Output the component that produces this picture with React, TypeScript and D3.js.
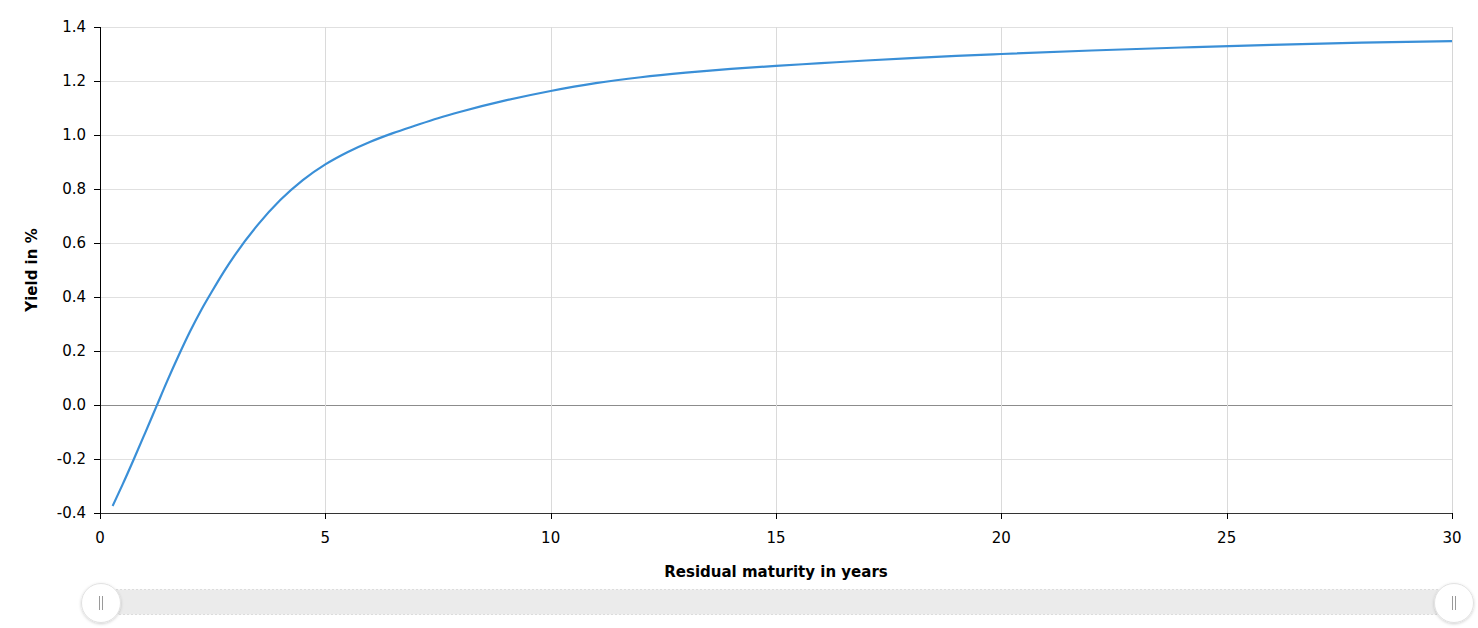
import React from "react";
import * as d3 from "d3";

const maturities = [0.28, 0.5, 0.75, 1.0, 1.25, 1.5, 1.75, 2.0, 2.25, 2.5, 2.75, 3.0, 3.5, 4.0, 4.5, 5.0, 5.5, 6.0, 6.5, 7.0, 7.5, 8.0, 9.0, 10.0, 11.0, 12.0, 13.0, 14.0, 15.0, 16.0, 17.0, 18.0, 19.0, 20.0, 22.0, 24.0, 26.0, 28.0, 30.0];
const yields = [-0.374, -0.295, -0.201, -0.104, -0.006, 0.092, 0.185, 0.273, 0.353, 0.425, 0.494, 0.557, 0.667, 0.759, 0.833, 0.891, 0.937, 0.975, 1.007, 1.035, 1.062, 1.086, 1.128, 1.163, 1.192, 1.214, 1.231, 1.245, 1.256, 1.266, 1.276, 1.285, 1.293, 1.3, 1.313, 1.324, 1.334, 1.342, 1.348];
const xTicks = [0, 5, 10, 15, 20, 25, 30];
const yTicks = [-0.4, -0.2, 0.0, 0.2, 0.4, 0.6, 0.8, 1.0, 1.2, 1.4];
const xTitle = "Residual maturity in years";
const yTitle = "Yield in %";

const W = 1478, H = 628;
const L = 100, R = 1452, T = 27, B = 513;
const FONT = "'DejaVu Sans', Verdana, sans-serif";

export default function App() {
  const x = d3.scaleLinear().domain([0, 30]).range([L, R]);
  const y = d3.scaleLinear().domain([-0.4, 1.4]).range([B, T]);
  const pts = maturities.map((m, i) => [m, yields[i]] as [number, number]);
  const line = d3.line<[number, number]>().x(d => x(d[0])).y(d => y(d[1])).curve(d3.curveMonotoneX);

  const grip = (cx: number) => (
    <g key={cx}>
      <circle cx={cx} cy={603} r={19.5} fill="#ffffff" stroke="#e2e2e2" strokeWidth={1} filter="url(#sh)" />
      <line x1={cx - 1.5} x2={cx - 1.5} y1={596} y2={610} stroke="#9a9a9a" strokeWidth={1} />
      <line x1={cx + 1.5} x2={cx + 1.5} y1={596} y2={610} stroke="#9a9a9a" strokeWidth={1} />
    </g>
  );

  return (
    <svg width={W} height={H} style={{ position: "absolute", left: 0, top: 0, fontFamily: FONT }}>
      <defs>
        <filter id="sh" x="-50%" y="-50%" width="200%" height="200%">
          <feDropShadow dx={0} dy={1} stdDeviation={1.5} floodColor="#000" floodOpacity={0.18} />
        </filter>
      </defs>
      <rect x={0} y={0} width={W} height={H} fill="#fff" />
      {yTicks.map(t => (
        <line key={"gy" + t} x1={L} x2={R} y1={Math.round(y(t)) + 0.5} y2={Math.round(y(t)) + 0.5}
          stroke={t === 0 ? "#8c8c8c" : "#e0e0e0"} strokeWidth={1} />
      ))}
      {xTicks.filter(t => t > 0).map(t => (
        <line key={"gx" + t} x1={Math.round(x(t)) + 0.5} x2={Math.round(x(t)) + 0.5} y1={T} y2={B}
          stroke={t === 30 ? "#d6d6d6" : "#dadada"} strokeWidth={1} />
      ))}
      <path d={line(pts) || ""} fill="none" stroke="#3a8fd7" strokeWidth={2.2} strokeLinejoin="round" />
      <line x1={L + 0.5} x2={L + 0.5} y1={T} y2={B + 1} stroke="#000" strokeWidth={1} />
      <line x1={L} x2={R + 1} y1={B + 0.5} y2={B + 0.5} stroke="#333" strokeWidth={1} />
      {yTicks.map(t => (
        <g key={"ty" + t}>
          <line x1={L - 6} x2={L} y1={Math.round(y(t)) + 0.5} y2={Math.round(y(t)) + 0.5} stroke="#000" />
          <text x={L - 14} y={y(t)} dy="0.36em" textAnchor="end" fontSize={15} fill="#000">{t.toFixed(1)}</text>
        </g>
      ))}
      {xTicks.map(t => (
        <g key={"tx" + t}>
          <line x1={Math.round(x(t)) + 0.5} x2={Math.round(x(t)) + 0.5} y1={B} y2={B + 6} stroke="#000" />
          <text x={x(t)} y={543} textAnchor="middle" fontSize={15} fill="#000">{t}</text>
        </g>
      ))}
      <text x={(L + R) / 2} y={577} textAnchor="middle" fontSize={15} fontWeight="bold" fill="#000">{xTitle}</text>
      <text transform={`translate(37, ${(T + B) / 2}) rotate(-90)`} textAnchor="middle" fontSize={15} fontWeight="bold" fill="#000">{yTitle}</text>
      <rect x={L} y={589.5} width={R - L} height={25} fill="#ebebeb" stroke="#dcdcdc" strokeDasharray="2,2" strokeWidth={1} />
      {grip(101)}
      {grip(1454)}
    </svg>
  );
}
